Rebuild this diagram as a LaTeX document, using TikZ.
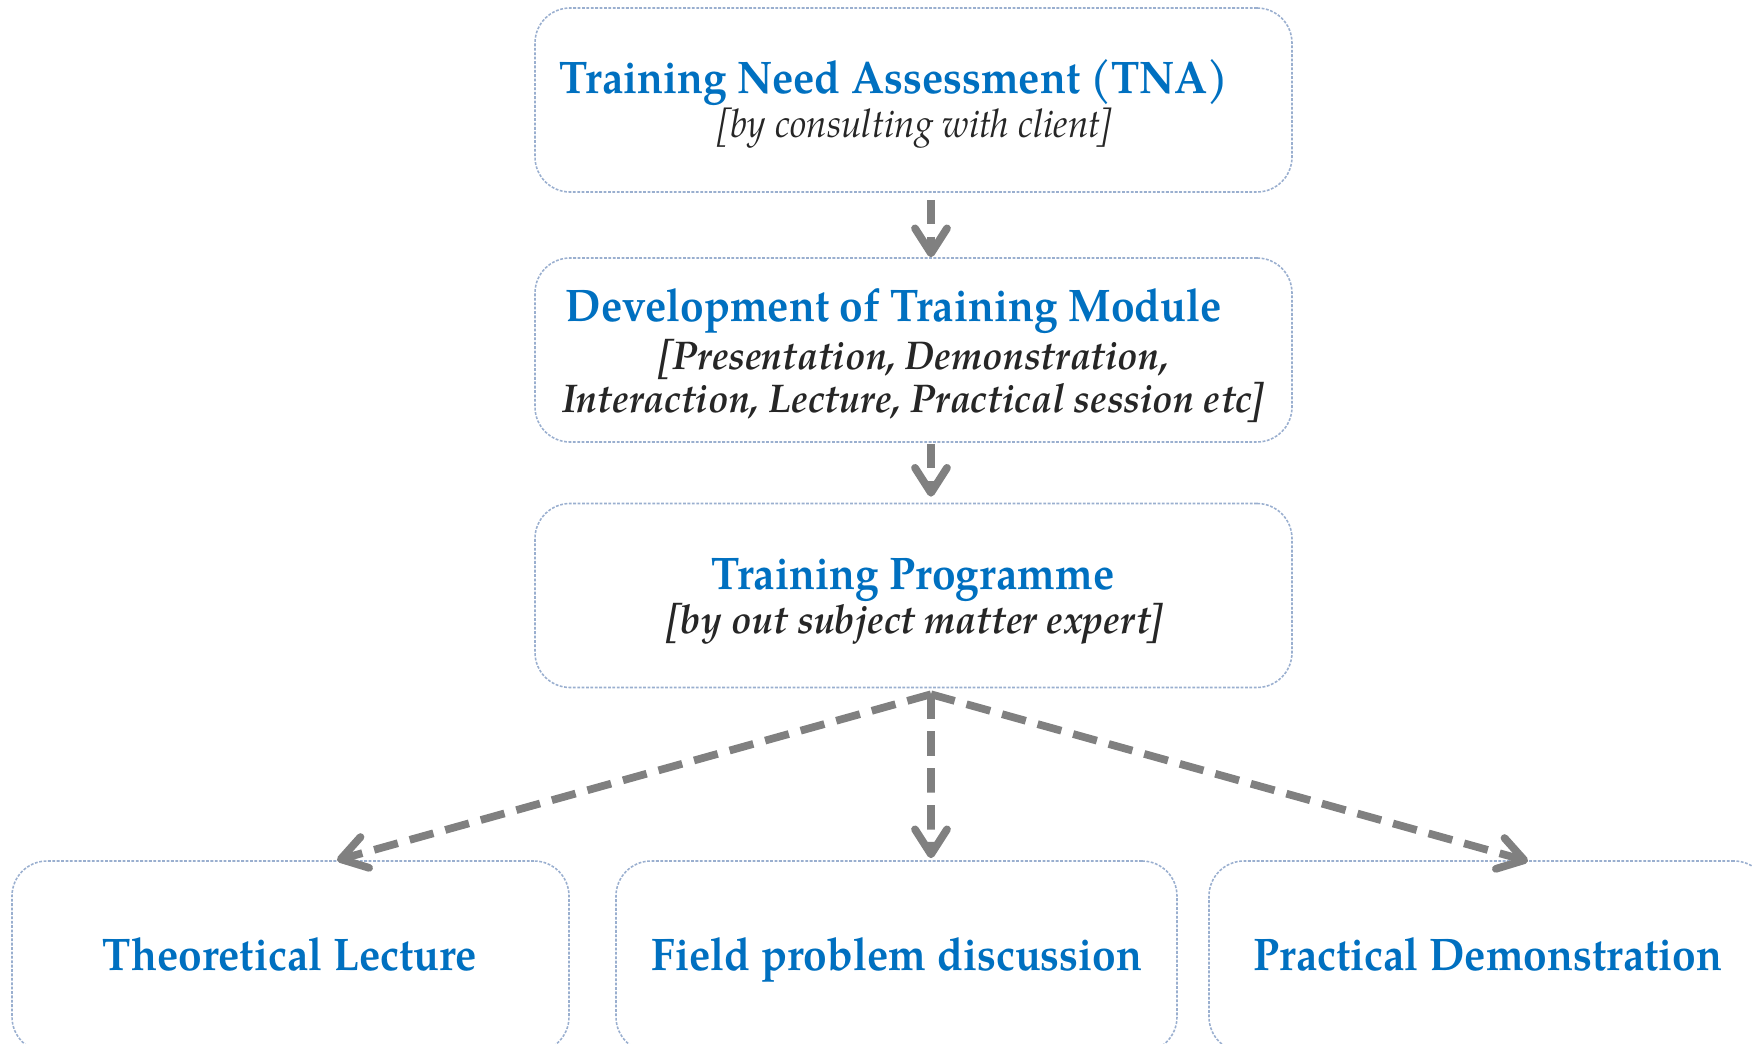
\documentclass[tikz,border=0pt]{standalone}
\usepackage{fontspec}
\setmainfont{TeX Gyre Pagella}
\newfontfamily\tfont[FakeStretch=0.93]{TeX Gyre Pagella}
\newfontfamily\sfontx[FakeStretch=0.935]{TeX Gyre Pagella}
\newfontfamily\brfont[FakeSlant=0.18,FakeStretch=0.935]{TeX Gyre Pagella}
\newcommand\myLB{{\brfont[}}
\newcommand\myRB{\kern-1.6pt{\brfont]}}
\usetikzlibrary{arrows.meta}
\definecolor{tblue}{HTML}{0070C0}
\definecolor{tdark}{HTML}{262626}
\definecolor{agray}{HTML}{808080}
\definecolor{bline}{HTML}{9AAFCF}
\begin{document}
\begin{tikzpicture}[x=0.1mm,y=-0.1mm,
  box/.style={draw=bline, line width=0.45pt, dash pattern=on 0.8pt off 0.45pt,
    rounded corners=3.5mm, inner sep=0pt},
  topbox/.style={box, minimum width=75.7mm, minimum height=18.4mm},
  lowbox/.style={box, minimum height=19.1mm},
  title/.style={text=tblue, font=\tfont\fontsize{13}{15}\selectfont\bfseries, inner sep=0pt, anchor=base},
  sub/.style={text=tdark, font=\sfontx\fontsize{11.2}{13}\selectfont\itshape, inner sep=0pt, anchor=base},
  subb/.style={text=tdark, font=\sfontx\fontsize{11.4}{13}\selectfont\bfseries\itshape, inner sep=0pt, anchor=base},
  conn/.style={draw=agray, line width=2.2pt, dash pattern=on 7pt off 3.5pt,
    -{Straight Barb[length=2.5mm,width=3.2mm,line cap=round,line join=round]}}
]
\useasboundingbox (0,0) rectangle (1752,1044);
\clip (0,0) rectangle (1752,1044);
% boxes
\node[topbox] (b1) at (913.5,100) {};
\node[topbox] (b2) at (913.5,350) {};
\node[topbox] (b3) at (913.5,595.5) {};
\node[lowbox, minimum width=55.7mm] (l1) at (290.5,956.5) {};
\node[lowbox, minimum width=56.1mm] (l2) at (896.5,956.5) {};
\node[lowbox, minimum width=56mm] (l3) at (1489,956.5) {};
% texts
\node[title] (t1) at (894,94) {Training Need Assessment (TNA)};
\node[sub] (s1) at (913,137) {\myLB by consulting with client\myRB};
\node[title] (t2) at (894,321) {Development of Training Module};
\node[subb] (s2a) at (912,369) {\myLB Presentation, Demonstration,};
\node[subb] (s2b) at (913,412) {Interaction, Lecture, Practical session etc\myRB};
\node[title] (t3) at (913,589) {Training Programme};
\node[subb] (s3) at (913,633) {\myLB by out subject matter expert\myRB};
\node[title] (u1) at (290,970) {Theoretical Lecture};
\node[title] (u2) at (897,970) {Field problem discussion};
\node[title] (u3) at (1488,970) {Practical Demonstration};
% connectors
\draw[conn] ([xshift=1.75mm,yshift=-0.7mm]b1.south) -- ([xshift=1.75mm]b2.north);
\draw[conn] ([xshift=1.75mm,yshift=-0.1mm]b2.south) -- ([xshift=1.75mm,yshift=0.6mm]b3.north);
\coordinate (fan) at ([xshift=1.75mm,yshift=-0.6mm]b3.south);
\draw[conn] (fan) -- ([xshift=4.65mm]l1.north);
\draw[conn] (fan) -- ([xshift=3.45mm,yshift=0.2mm]l2.north);
\draw[conn] (fan) -- ([xshift=3.9mm,yshift=-0.1mm]l3.north);
\end{tikzpicture}
\end{document}
